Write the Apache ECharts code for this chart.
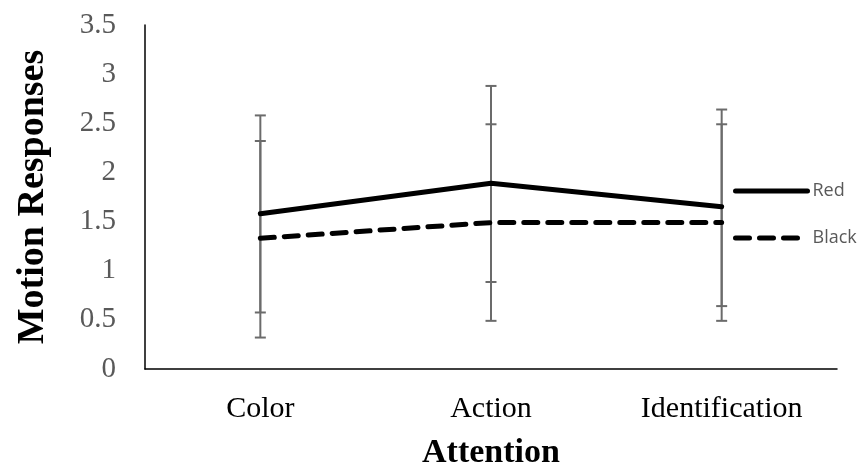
<!DOCTYPE html>
<html>
<head>
<meta charset="utf-8">
<script src="https://cdn.jsdelivr.net/npm/echarts@6/dist/echarts.min.js"></script>
<style>html,body{margin:0;padding:0;background:#fff}#c{width:866px;height:475px}</style>
</head>
<body>
<div id="c"></div>
<script>
const categories = ['Color', 'Action', 'Identification'];
const redValues = [1.58, 1.89, 1.65];
const blackValues = [1.33, 1.49, 1.49];
const redLow = [0.575, 0.885, 0.64];
const redHigh = [2.58, 2.88, 2.64];
const blackLow = [0.32, 0.49, 0.49];
const blackHigh = [2.32, 2.49, 2.49];
const yTicks = [0, 0.5, 1, 1.5, 2, 2.5, 3, 3.5];

function errData(low, high) {
  return categories.map((c, i) => [i, low[i], high[i]]);
}
function errRender(params, api) {
  const x = api.value(0);
  const lo = api.coord([x, api.value(1)]);
  const hi = api.coord([x, api.value(2)]);
  const w = 5.5;
  const st = { stroke: '#6b6b6b', lineWidth: 2 };
  return {
    type: 'group',
    children: [
      { type: 'line', shape: { x1: lo[0], y1: lo[1], x2: hi[0], y2: hi[1] }, style: st },
      { type: 'line', shape: { x1: lo[0] - w, y1: lo[1], x2: lo[0] + w, y2: lo[1] }, style: st },
      { type: 'line', shape: { x1: hi[0] - w, y1: hi[1], x2: hi[0] + w, y2: hi[1] }, style: st }
    ]
  };
}

const chart = echarts.init(document.getElementById('c'), null, { renderer: 'canvas' });
chart.setOption({
  animation: false,
  backgroundColor: '#fff',
  grid: { left: 145, right: 29, top: 25, bottom: 105, containLabel: false },
  legend: {
    orient: 'vertical', left: 728, top: 177,
    itemWidth: 72, itemHeight: 14, itemGap: 29,
    itemStyle: { opacity: 0 },
    lineStyle: { width: 5 },
    textStyle: { fontFamily: 'Open Sans', fontSize: 18, color: '#595959' },
    data: ['Red', 'Black']
  },
  xAxis: {
    type: 'category', data: categories, boundaryGap: true,
    name: 'Attention', nameLocation: 'middle', nameGap: 67,
    nameTextStyle: { fontFamily: 'Liberation Serif', fontWeight: 'bold', fontSize: 34, color: '#000' },
    axisLine: { lineStyle: { color: '#000', width: 1.5 } },
    axisTick: { show: false },
    axisLabel: { fontFamily: 'Liberation Serif', fontSize: 30, color: '#000', margin: 25 },
    splitLine: { show: false }
  },
  yAxis: {
    type: 'value', min: 0, max: 3.5, interval: 0.5,
    name: 'Motion Responses', nameLocation: 'middle', nameGap: 93,
    nameTextStyle: { fontFamily: 'Liberation Serif', fontWeight: 'bold', fontSize: 38, color: '#000' },
    axisLine: { show: true, lineStyle: { color: '#000', width: 1.5 } },
    axisTick: { show: false },
    axisLabel: { fontFamily: 'Liberation Serif', fontSize: 29, color: '#595959', margin: 29,
      formatter: v => (yTicks.indexOf(v) >= 0 ? String(v) : '') },
    splitLine: { show: false }
  },
  series: [
    { name: 'RedErr', type: 'custom', renderItem: errRender, data: errData(redLow, redHigh), z: 1, silent: true },
    { name: 'BlackErr', type: 'custom', renderItem: errRender, data: errData(blackLow, blackHigh), z: 1, silent: true },
    { name: 'Red', type: 'line', data: redValues, symbol: 'none', z: 3,
      color: '#000',
      lineStyle: { color: '#000', width: 5, cap: 'round', join: 'round' } },
    { name: 'Black', type: 'line', data: blackValues, symbol: 'none', z: 3,
      color: '#000',
      lineStyle: { color: '#000', width: 5, type: [14, 10], cap: 'round', join: 'round' } }
  ]
});
</script>
</body>
</html>
